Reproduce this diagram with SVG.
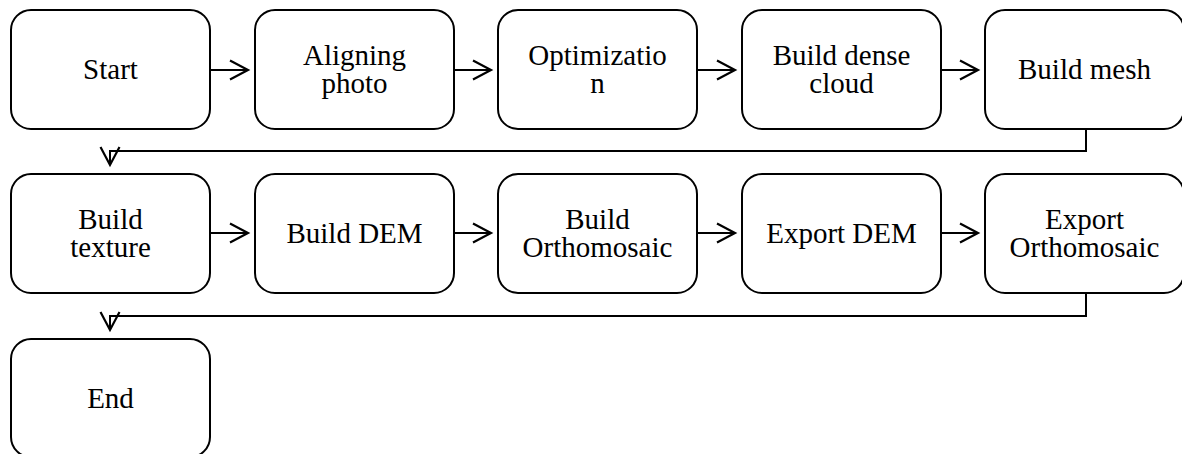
<svg xmlns="http://www.w3.org/2000/svg" width="1182" height="454" viewBox="0 0 1182 454">
  <style>
    .box { fill: #ffffff; stroke: #000000; stroke-width: 2; }
    .lbl { font-family: "Liberation Serif", "Times New Roman", serif; font-size: 29px; fill: #000000; text-anchor: middle; }
    .link { fill: none; stroke: #000000; stroke-width: 2; marker-end: url(#open); }
  </style>
  <defs>
    <marker id="open" markerUnits="userSpaceOnUse" markerWidth="24" markerHeight="24" viewBox="-22 -12 24 24" refX="0" refY="0" orient="auto" overflow="visible">
      <path d="M-18,-9.5 L0,0 L-18,9.5" fill="none" stroke="#000000" stroke-width="2.2"/>
    </marker>
  </defs>
  <rect width="1182" height="454" fill="#ffffff"/>

  <!-- connectors -->
  <g id="connectors">
    <path class="link" d="M210,70 H248"/>
    <path class="link" d="M454,70 H491"/>
    <path class="link" d="M697,70 H735"/>
    <path class="link" d="M941,70 H978"/>
    <path class="link" d="M1086,129 V151 H110 V165"/>
    <path class="link" d="M210,233 H248"/>
    <path class="link" d="M454,233 H491"/>
    <path class="link" d="M697,233 H735"/>
    <path class="link" d="M941,233 H978"/>
    <path class="link" d="M1086,293 V316 H110 V330"/>
  </g>

  <!-- row 1 -->
  <g id="start">
    <rect class="box" x="11" y="10" width="199" height="119" rx="20"/>
    <text class="lbl" x="110.5" y="79">Start</text>
  </g>
  <g id="aligning-photo">
    <rect class="box" x="255" y="10" width="199" height="119" rx="20"/>
    <text class="lbl" x="354.5" y="65">Aligning</text>
    <text class="lbl" x="354.5" y="93">photo</text>
  </g>
  <g id="optimization">
    <rect class="box" x="498" y="10" width="199" height="119" rx="20"/>
    <text class="lbl" x="597.5" y="65">Optimizatio</text>
    <text class="lbl" x="597.5" y="93">n</text>
  </g>
  <g id="build-dense-cloud">
    <rect class="box" x="742" y="10" width="199" height="119" rx="20"/>
    <text class="lbl" x="841.5" y="65">Build dense</text>
    <text class="lbl" x="841.5" y="93">cloud</text>
  </g>
  <g id="build-mesh">
    <rect class="box" x="985" y="10" width="199" height="119" rx="20"/>
    <text class="lbl" x="1084.5" y="79">Build mesh</text>
  </g>

  <!-- row 2 -->
  <g id="build-texture">
    <rect class="box" x="11" y="174" width="199" height="119" rx="20"/>
    <text class="lbl" x="110.5" y="229">Build</text>
    <text class="lbl" x="110.5" y="257">texture</text>
  </g>
  <g id="build-dem">
    <rect class="box" x="255" y="174" width="199" height="119" rx="20"/>
    <text class="lbl" x="354.5" y="243">Build DEM</text>
  </g>
  <g id="build-orthomosaic">
    <rect class="box" x="498" y="174" width="199" height="119" rx="20"/>
    <text class="lbl" x="597.5" y="229">Build</text>
    <text class="lbl" x="597.5" y="257">Orthomosaic</text>
  </g>
  <g id="export-dem">
    <rect class="box" x="742" y="174" width="199" height="119" rx="20"/>
    <text class="lbl" x="841.5" y="243">Export DEM</text>
  </g>
  <g id="export-orthomosaic">
    <rect class="box" x="985" y="174" width="199" height="119" rx="20"/>
    <text class="lbl" x="1084.5" y="229">Export</text>
    <text class="lbl" x="1084.5" y="257">Orthomosaic</text>
  </g>

  <!-- row 3 -->
  <g id="end">
    <rect class="box" x="11" y="339" width="199" height="118" rx="20"/>
    <text class="lbl" x="110.5" y="408">End</text>
  </g>
</svg>
